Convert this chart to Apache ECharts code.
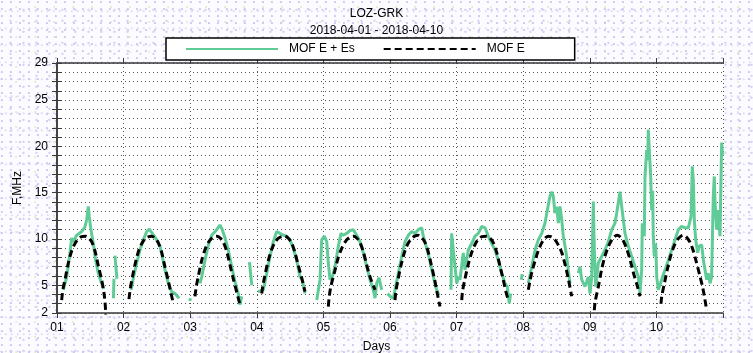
<!DOCTYPE html>
<html>
<head>
<meta charset="utf-8">
<script src="https://cdn.jsdelivr.net/npm/echarts@6/dist/echarts.min.js"></script>
<style>
  html, body { margin: 0; padding: 0; }
  body {
    width: 753px; height: 353px; overflow: hidden;
    background:
      radial-gradient(circle at 20% 30%, #cfcaf0 0.8px, transparent 1.4px) 0 0 / 9px 7px,
      radial-gradient(circle at 65% 80%, #d9d5f3 0.9px, transparent 1.5px) 2px 1px / 13px 11px,
      radial-gradient(circle at 45% 55%, #e2def6 0.8px, transparent 1.3px) 3px 2px / 6px 17px,
      radial-gradient(circle at 80% 20%, #ece9c8 0.7px, transparent 1.2px) 1px 4px / 19px 15px,
      #fcfbff;
  }
  #chart { width: 753px; height: 353px; }
</style>
</head>
<body>
<div id="chart"></div>
<script>
// Path / period shown in the header
const pathName = 'LOZ-GRK';
const periodText = '2018-04-01 - 2018-04-10';
const xAxisTitle = 'Days';
const yAxisTitle = 'F,MHz';

// Day-of-month labels placed at the start of each day
const dayLabels = ['01', '02', '03', '04', '05', '06', '07', '08', '09', '10'];
// Labelled frequency ticks (MHz); the minor ticks fall on every 1 MHz
const freqTickLabels = [2, 5, 10, 15, 20, 25, 29];

const seriesNames = ['MOF E + Es', 'MOF E'];

// Observed MOF of E + sporadic E, [day, MHz]; null breaks the trace
const mofEEs = [
  [0.095, 4.5], [0.146, 5.9], [0.195, 8.5], [0.22, 10.1], [0.245, 9.7], [0.296, 10.4],
  [0.371, 10.8], [0.42, 11.3], [0.446, 12.1], [0.47, 13.5], [0.485, 12.4], [0.51, 11.0],
  [0.545, 9.5], [0.58, 7.7], [0.62, 6.3], [0.66, 5.4], [0.70, 4.6], null,
  [0.848, 3.6], [0.855, 5.7], null,
  [0.87, 8.2], [0.885, 6.9], [0.9, 5.7], null,
  [1.111, 4.5], [1.146, 5.75], [1.197, 7.4], [1.246, 8.8], [1.296, 9.9], [1.347, 10.8],
  [1.386, 11.05], [1.431, 10.6], [1.497, 9.9], [1.547, 9.2], [1.581, 8.1], [1.622, 6.65],
  [1.671, 5.2], [1.722, 4.3], [1.772, 4.1], [1.832, 3.6], null,
  [1.995, 3.3], [2.002, 3.6], null,
  [2.147, 5.2], [2.173, 5.9], [2.222, 7.7], [2.272, 9.35], [2.323, 10.4], [2.398, 11.0],
  [2.447, 11.5], [2.482, 11.0], [2.523, 10.1], [2.572, 8.8], [2.623, 7.0], [2.673, 5.4],
  [2.722, 4.1], [2.748, 2.9], [2.773, 3.8], null,
  [2.89, 7.5], [2.91, 6.0], [2.925, 5.0], null,
  [3.018, 4.3], [3.098, 4.5], [3.149, 6.3], [3.198, 8.1], [3.248, 9.7], [3.299, 10.8],
  [3.348, 10.6], [3.398, 10.4], [3.449, 10.3], [3.498, 9.9], [3.548, 9.0], [3.599, 7.7],
  [3.649, 5.9], [3.683, 5.6], [3.724, 4.1], null,
  [3.90, 3.4], [3.949, 5.6], [3.974, 9.9], [4.014, 10.3], [4.05, 9.7], [4.074, 7.4],
  [4.099, 5.6], [4.134, 5.9], [4.174, 7.0], [4.224, 9.2], [4.264, 10.6], [4.299, 10.4],
  [4.35, 10.6], [4.399, 10.9], [4.449, 11.0], [4.5, 10.4], [4.55, 9.7], [4.6, 8.5],
  [4.65, 7.0], [4.7, 5.6], [4.749, 4.5], [4.775, 3.6], [4.8, 5.2], [4.835, 5.8],
  [4.875, 4.5], null,
  [4.965, 4.1], [5.0, 3.8], [5.05, 3.6], [5.125, 6.3], [5.176, 8.1], [5.225, 9.7],
  [5.275, 10.4], [5.326, 10.8], [5.375, 10.6], [5.425, 11.0], [5.476, 11.2], [5.5, 10.3],
  [5.551, 9.0], [5.601, 7.6], [5.65, 5.9], [5.701, 4.5], [5.736, 3.9], null,
  [5.916, 4.5], [5.926, 10.6], [5.95, 8.8], [5.976, 7.0], [6.002, 5.2], [6.026, 5.9],
  [6.051, 5.6], [6.1, 8.5], [6.126, 6.65], [6.176, 8.8], [6.227, 9.5], [6.276, 10.3],
  [6.326, 10.6], [6.377, 11.35], [6.426, 11.2], [6.476, 10.3], [6.527, 9.5], [6.577, 8.8],
  [6.626, 7.7], [6.677, 6.3], [6.727, 5.2], [6.761, 4.85], [6.791, 3.05], [6.812, 4.1], null,
  [6.97, 5.6], [6.985, 6.2], null,
  [7.077, 5.2], [7.128, 7.0], [7.177, 8.8], [7.227, 9.9], [7.278, 10.6], [7.327, 11.7],
  [7.362, 13.1], [7.402, 14.6], [7.428, 15.1], [7.452, 14.6], [7.477, 12.8], [7.503, 13.5],
  [7.527, 11.7], [7.553, 13.5], [7.578, 12.1], [7.602, 10.3], [7.628, 9.2], [7.653, 8.1],
  [7.677, 6.65], [7.703, 5.2], null,
  [7.827, 6.3], [7.853, 7.0], [7.878, 5.6], [7.928, 4.85], [7.953, 4.85], [7.977, 5.9],
  [8.003, 4.1], [8.029, 5.9], [8.053, 14.05], [8.068, 8.8], [8.089, 4.85], [8.128, 7.4],
  [8.178, 8.1], [8.228, 8.8], [8.278, 9.7], [8.329, 11.0], [8.378, 11.7], [8.404, 12.8],
  [8.428, 13.9], [8.453, 15.1], [8.479, 13.5], [8.503, 12.1], [8.529, 10.6], [8.578, 9.2],
  [8.629, 8.1], [8.679, 7.0], [8.728, 5.9], [8.754, 4.1], [8.779, 6.65], [8.788, 11.7],
  [8.818, 10.3], [8.829, 16.75], [8.854, 19.6], [8.869, 18.5], [8.878, 21.8], [8.904, 22.0],
  [8.914, 16.75], [8.929, 13.1], [8.944, 15.2], [8.953, 10.3], [8.968, 8.1], [8.989, 9.5],
  [9.005, 5.9], [9.029, 4.5], [9.054, 4.3], [9.079, 5.6], [9.129, 6.65], [9.179, 7.7],
  [9.23, 8.8], [9.279, 9.9], [9.329, 11.0], [9.38, 11.35], [9.429, 11.2], [9.479, 11.2],
  [9.52, 12.4], [9.539, 17.85], [9.554, 16.4], [9.569, 12.1], [9.59, 9.9], [9.62, 8.5],
  [9.64, 9.2], [9.68, 9.35], [9.71, 7.5], [9.755, 5.6], [9.779, 6.3], [9.805, 5.2],
  [9.829, 5.9], [9.854, 14.6], [9.869, 16.75], [9.88, 14.0], [9.905, 11.0], [9.929, 13.1],
  [9.955, 10.3], [9.98, 20.4], [9.992, 19.0]
];

// Model MOF of the regular E layer, one daytime arc per day, [day, MHz]
const mofE = [
  [0.07, 3.4], [0.09, 4.6], [0.12, 5.6], [0.17, 7.4], [0.22, 8.7], [0.27, 9.5], [0.32, 10.0],
  [0.37, 10.25], [0.42, 10.3], [0.47, 10.15], [0.52, 9.7], [0.57, 8.7], [0.62, 7.1],
  [0.67, 5.6], [0.71, 3.9], [0.73, 2.2], [0.732, 1.0], null,
  [1.081, 3.5], [1.10, 4.6], [1.13, 5.8], [1.18, 7.5], [1.23, 8.8], [1.28, 9.6], [1.33, 10.05],
  [1.38, 10.25], [1.42, 10.3], [1.47, 10.1], [1.52, 9.6], [1.57, 8.6], [1.62, 7.0],
  [1.67, 5.5], [1.71, 4.2], [1.746, 3.05], null,
  [2.072, 3.8], [2.09, 4.8], [2.12, 5.9], [2.17, 7.6], [2.22, 8.8], [2.27, 9.6], [2.32, 10.05],
  [2.36, 10.25], [2.40, 10.3], [2.45, 10.1], [2.50, 9.6], [2.55, 8.6], [2.60, 7.1],
  [2.65, 5.6], [2.70, 4.2], [2.748, 2.9], null,
  [3.074, 4.1], [3.09, 4.9], [3.12, 6.0], [3.17, 7.6], [3.22, 8.8], [3.27, 9.6], [3.32, 10.05],
  [3.37, 10.25], [3.42, 10.3], [3.47, 10.1], [3.52, 9.6], [3.57, 8.6], [3.62, 7.2],
  [3.67, 5.9], [3.724, 4.3], null,
  [4.074, 2.7], [4.085, 3.6], [4.11, 4.8], [4.17, 6.5], [4.22, 7.9], [4.27, 8.9], [4.32, 9.6],
  [4.37, 10.05], [4.45, 10.3], [4.50, 10.1], [4.55, 9.6], [4.60, 8.6], [4.65, 7.2],
  [4.70, 5.9], [4.775, 4.5], null,
  [5.075, 3.4], [5.09, 4.4], [5.12, 5.6], [5.17, 7.3], [5.22, 8.6], [5.27, 9.5], [5.32, 10.0],
  [5.37, 10.3], [5.425, 10.4], [5.47, 10.2], [5.52, 9.7], [5.57, 8.7], [5.62, 7.2],
  [5.67, 5.6], [5.71, 4.1], [5.751, 2.7], null,
  [6.077, 3.4], [6.09, 4.4], [6.12, 5.5], [6.17, 7.1], [6.22, 8.4], [6.27, 9.3], [6.32, 9.9],
  [6.38, 10.25], [6.45, 10.3], [6.50, 10.1], [6.55, 9.6], [6.60, 8.6], [6.65, 7.1],
  [6.70, 5.6], [6.74, 4.3], [6.776, 3.4], null,
  [7.077, 4.5], [7.10, 5.4], [7.13, 6.4], [7.18, 7.7], [7.23, 8.8], [7.28, 9.6], [7.33, 10.1],
  [7.38, 10.3], [7.43, 10.2], [7.48, 9.9], [7.53, 9.3], [7.58, 8.5], [7.63, 7.2],
  [7.68, 5.6], [7.728, 3.8], null,
  [8.068, 2.3], [8.08, 3.2], [8.13, 4.9], [8.18, 6.8], [8.23, 8.2], [8.28, 9.2], [8.33, 9.9],
  [8.37, 10.25], [8.41, 10.4], [8.46, 10.2], [8.51, 9.7], [8.56, 8.8], [8.61, 7.6],
  [8.66, 6.2], [8.71, 5.0], [8.754, 3.8], null,
  [9.069, 3.0], [9.08, 3.8], [9.12, 5.2], [9.17, 6.9], [9.22, 8.3], [9.27, 9.3], [9.32, 9.95],
  [9.36, 10.25], [9.40, 10.4], [9.45, 10.2], [9.50, 9.7], [9.55, 8.8], [9.60, 7.5],
  [9.65, 6.1], [9.70, 4.6], [9.755, 2.3]
];

const FONT = "'Liberation Sans Narrow', 'Liberation Sans', Arial, sans-serif";
const frameLine = { show: true, lineStyle: { color: '#3a3a3a', width: 1.5 } };
const frameTick = { show: true, inside: false, length: 5, lineStyle: { color: '#3a3a3a', width: 1 } };
const dotted = { show: true, lineStyle: { color: '#555', width: 1, type: [1, 3] } };
const txt = { fontFamily: FONT, fontSize: 12, color: '#000', fontWeight: 'normal' };

const chart = echarts.init(document.getElementById('chart'), null, { renderer: 'canvas' });

chart.setOption({
  animation: false,
  backgroundColor: 'transparent',
  textStyle: { fontFamily: FONT },
  title: [
    { text: pathName, left: 'center', top: 8, padding: 0, textStyle: txt },
    { text: periodText, left: 'center', top: 25, padding: 0, textStyle: txt },
    { text: xAxisTitle, left: 'center', top: 341, padding: 0, textStyle: txt }
  ],
  legend: {
    data: seriesNames,
    left: 166,
    top: 38,
    orient: 'horizontal',
    itemWidth: 92,
    itemHeight: 14,
    itemGap: 28,
    padding: [5, 50, 5, 19],
    backgroundColor: '#fff',
    borderColor: '#000',
    borderWidth: 1.5,
    borderRadius: 0,
    selectedMode: false,
    // only the line sample is drawn, no marker on it
    itemStyle: { opacity: 0 },
    textStyle: Object.assign({}, txt, { padding: [0, 0, 0, 6] })
  },
  grid: {
    left: 57, right: 30, top: 63, bottom: 40,
    show: true, backgroundColor: '#fff', borderWidth: 0
  },
  xAxis: [
    {
      type: 'value', position: 'bottom', min: 0, max: 10, interval: 1,
      axisLine: frameLine, axisTick: frameTick,
      axisLabel: Object.assign({}, txt, {
        margin: 9,
        formatter: v => (dayLabels[Math.round(v)] !== undefined && Math.abs(v - Math.round(v)) < 1e-6) ? dayLabels[Math.round(v)] : ''
      }),
      splitLine: dotted
    },
    {
      type: 'value', position: 'top', min: 0, max: 10, interval: 1,
      axisLine: frameLine, axisTick: frameTick,
      axisLabel: { show: false }, splitLine: { show: false }
    }
  ],
  yAxis: [
    {
      type: 'value', position: 'left', min: 2, max: 29, interval: 1,
      name: yAxisTitle, nameLocation: 'middle', nameGap: 33, nameRotate: 90,
      nameTextStyle: txt,
      axisLine: frameLine, axisTick: frameTick,
      axisLabel: Object.assign({}, txt, {
        margin: 9,
        formatter: v => freqTickLabels.indexOf(v) >= 0 ? String(v) : ''
      }),
      splitLine: dotted
    },
    {
      type: 'value', position: 'right', min: 2, max: 29, interval: 1,
      axisLine: frameLine, axisTick: frameTick,
      axisLabel: { show: false }, splitLine: { show: false }
    }
  ],
  series: [
    {
      name: seriesNames[0], type: 'line', data: mofEEs,
      xAxisIndex: 0, yAxisIndex: 0,
      symbol: 'none', showSymbol: false, connectNulls: false, clip: true,
      itemStyle: { color: '#5fcb96' },
      lineStyle: { color: '#5fcb96', width: 3 }
    },
    {
      name: seriesNames[1], type: 'line', data: mofE,
      xAxisIndex: 0, yAxisIndex: 0, smooth: 0.3,
      symbol: 'none', showSymbol: false, connectNulls: false, clip: true,
      itemStyle: { color: '#000' },
      lineStyle: { color: '#000', width: 3, type: [7, 4] }
    }
  ]
});
</script>
</body>
</html>
